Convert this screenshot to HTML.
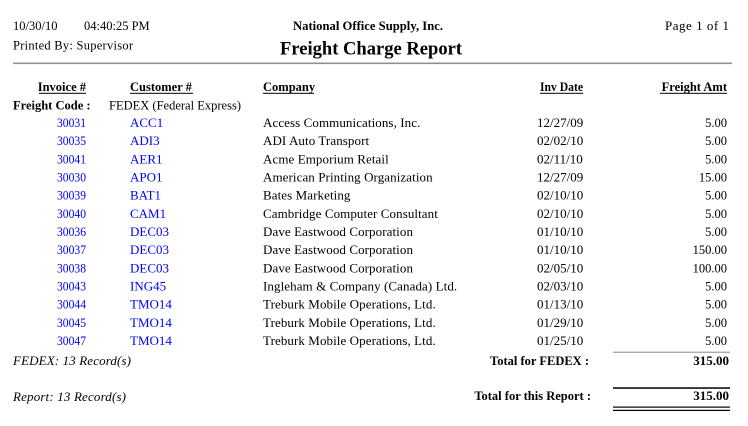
<!DOCTYPE html>
<html>
<head>
<meta charset="utf-8">
<style>
html,body{margin:0;padding:0;background:#fff;}
body{width:748px;height:426px;overflow:hidden;}
svg{display:block;}
text{font-family:"Liberation Serif","Times New Roman",serif;fill:#000;}
.b{font-weight:bold;}
.blue text{fill:#0000ff;}
.it{font-style:italic;}
</style>
</head>
<body>
<svg width="748" height="426" viewBox="0 0 748 426" xmlns="http://www.w3.org/2000/svg">
<rect width="748" height="426" fill="#fff"/>
<!-- Top header -->
<text x="13" y="30" font-size="12.5">10/30/10</text>
<text x="84" y="30" font-size="12.5">04:40:25 PM</text>
<text x="13" y="49.5" font-size="12.5" textLength="120" lengthAdjust="spacing">Printed By: Supervisor</text>
<text x="293" y="30" font-size="13" class="b" textLength="150" lengthAdjust="spacingAndGlyphs">National Office Supply, Inc.</text>
<text x="729" y="30" font-size="13" text-anchor="end" textLength="64" lengthAdjust="spacing">Page 1 of 1</text>
<text x="280" y="54.3" font-size="18.5" class="b" textLength="182" lengthAdjust="spacingAndGlyphs">Freight Charge Report</text>
<rect x="13" y="62.5" width="719" height="1.6" fill="#909090"/>

<!-- Column headers -->
<text x="86" y="91" font-size="12.5" class="b" text-anchor="end">Invoice #</text>
<rect x="39" y="92.8" width="47" height="1" fill="#000"/>
<text x="130" y="91" font-size="12.5" class="b">Customer #</text>
<rect x="130" y="92.8" width="63" height="1" fill="#000"/>
<text x="263" y="91" font-size="12.5" class="b">Company</text>
<rect x="263" y="92.8" width="51" height="1" fill="#000"/>
<text x="540" y="91" font-size="12.5" class="b" textLength="43" lengthAdjust="spacingAndGlyphs">Inv Date</text>
<rect x="540" y="92.8" width="43" height="1" fill="#000"/>
<text x="727" y="91" font-size="12.5" class="b" text-anchor="end">Freight Amt</text>
<rect x="660" y="92.8" width="67" height="1" fill="#000"/>

<!-- Freight code -->
<text x="13" y="109.5" font-size="12.5" class="b">Freight Code :</text>
<text x="109" y="109.5" font-size="12.5" textLength="132" lengthAdjust="spacing">FEDEX (Federal Express)</text>

<!-- Rows -->
<g font-size="13">
<g class="blue">
<text x="86" y="127" text-anchor="end" textLength="29" lengthAdjust="spacingAndGlyphs">30031</text>
<text x="86" y="145.2" text-anchor="end" textLength="29" lengthAdjust="spacingAndGlyphs">30035</text>
<text x="86" y="163.3" text-anchor="end" textLength="29" lengthAdjust="spacingAndGlyphs">30041</text>
<text x="86" y="181.5" text-anchor="end" textLength="29" lengthAdjust="spacingAndGlyphs">30030</text>
<text x="86" y="199.7" text-anchor="end" textLength="29" lengthAdjust="spacingAndGlyphs">30039</text>
<text x="86" y="217.9" text-anchor="end" textLength="29" lengthAdjust="spacingAndGlyphs">30040</text>
<text x="86" y="236" text-anchor="end" textLength="29" lengthAdjust="spacingAndGlyphs">30036</text>
<text x="86" y="254.2" text-anchor="end" textLength="29" lengthAdjust="spacingAndGlyphs">30037</text>
<text x="86" y="272.4" text-anchor="end" textLength="29" lengthAdjust="spacingAndGlyphs">30038</text>
<text x="86" y="290.5" text-anchor="end" textLength="29" lengthAdjust="spacingAndGlyphs">30043</text>
<text x="86" y="308.7" text-anchor="end" textLength="29" lengthAdjust="spacingAndGlyphs">30044</text>
<text x="86" y="326.9" text-anchor="end" textLength="29" lengthAdjust="spacingAndGlyphs">30045</text>
<text x="86" y="345" text-anchor="end" textLength="29" lengthAdjust="spacingAndGlyphs">30047</text>

<text x="130" y="127">ACC1</text>
<text x="130" y="145.2">ADI3</text>
<text x="130" y="163.3">AER1</text>
<text x="130" y="181.5">APO1</text>
<text x="130" y="199.7">BAT1</text>
<text x="130" y="217.9">CAM1</text>
<text x="130" y="236">DEC03</text>
<text x="130" y="254.2">DEC03</text>
<text x="130" y="272.4">DEC03</text>
<text x="130" y="290.5">ING45</text>
<text x="130" y="308.7">TMO14</text>
<text x="130" y="326.9">TMO14</text>
<text x="130" y="345">TMO14</text>
</g>

<g letter-spacing="0.08">
<text x="263" y="127">Access Communications, Inc.</text>
<text x="263" y="145.2">ADI Auto Transport</text>
<text x="263" y="163.3">Acme Emporium Retail</text>
<text x="263" y="181.5">American Printing Organization</text>
<text x="263" y="199.7">Bates Marketing</text>
<text x="263" y="217.9">Cambridge Computer Consultant</text>
<text x="263" y="236">Dave Eastwood Corporation</text>
<text x="263" y="254.2">Dave Eastwood Corporation</text>
<text x="263" y="272.4">Dave Eastwood Corporation</text>
<text x="263" y="290.5">Ingleham &amp; Company (Canada) Ltd.</text>
<text x="263" y="308.7">Treburk Mobile Operations, Ltd.</text>
<text x="263" y="326.9">Treburk Mobile Operations, Ltd.</text>
<text x="263" y="345">Treburk Mobile Operations, Ltd.</text>
</g>

<g>
<text x="537" y="127">12/27/09</text>
<text x="537" y="145.2">02/02/10</text>
<text x="537" y="163.3">02/11/10</text>
<text x="537" y="181.5">12/27/09</text>
<text x="537" y="199.7">02/10/10</text>
<text x="537" y="217.9">02/10/10</text>
<text x="537" y="236">01/10/10</text>
<text x="537" y="254.2">01/10/10</text>
<text x="537" y="272.4">02/05/10</text>
<text x="537" y="290.5">02/03/10</text>
<text x="537" y="308.7">01/13/10</text>
<text x="537" y="326.9">01/29/10</text>
<text x="537" y="345">01/25/10</text>
</g>

<g text-anchor="end" font-size="12.5">
<text x="727" y="127">5.00</text>
<text x="727" y="145.2">5.00</text>
<text x="727" y="163.3">5.00</text>
<text x="727" y="181.5">15.00</text>
<text x="727" y="199.7">5.00</text>
<text x="727" y="217.9">5.00</text>
<text x="727" y="236">5.00</text>
<text x="727" y="254.2">150.00</text>
<text x="727" y="272.4">100.00</text>
<text x="727" y="290.5">5.00</text>
<text x="727" y="308.7">5.00</text>
<text x="727" y="326.9">5.00</text>
<text x="727" y="345">5.00</text>
</g>
</g>

<!-- Group total -->
<rect x="613" y="351.7" width="117" height="1" fill="#888"/>
<text x="13" y="365" font-size="13" class="it" textLength="118" lengthAdjust="spacing">FEDEX: 13 Record(s)</text>
<text x="589" y="365" font-size="12.5" class="b" text-anchor="end">Total for FEDEX :</text>
<text x="729" y="365" font-size="13" class="b" text-anchor="end">315.00</text>

<!-- Report total -->
<rect x="613" y="387.3" width="117" height="1.5" fill="#000"/>
<text x="13" y="401" font-size="13" class="it" textLength="113" lengthAdjust="spacing">Report: 13 Record(s)</text>
<text x="591" y="400" font-size="12.5" class="b" text-anchor="end">Total for this Report :</text>
<text x="729" y="400" font-size="13" class="b" text-anchor="end">315.00</text>
<rect x="613" y="406.5" width="117" height="1.2" fill="#000"/>
<rect x="613" y="409.8" width="117" height="1.2" fill="#000"/>
</svg>
</body>
</html>
